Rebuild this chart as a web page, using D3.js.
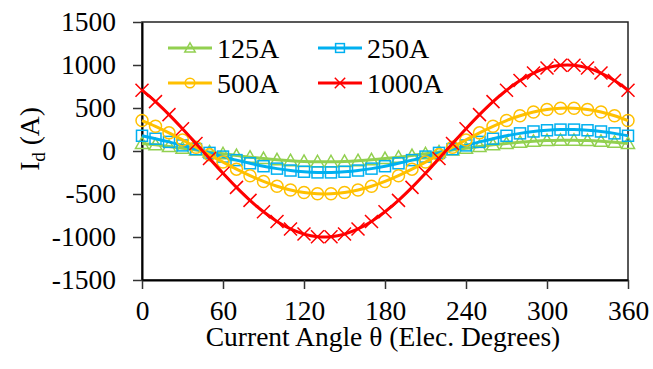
<!DOCTYPE html>
<html>
<head>
<meta charset="utf-8">
<script src="https://cdn.jsdelivr.net/npm/d3@7"></script>
<style>
  body { margin: 0; background: #fff; }
  svg text { font-family: "Liberation Serif", "Times New Roman", serif; fill: #000; }
</style>
</head>
<body>
<div id="chart"></div>
<script>
// Current angle (elec. degrees), one point every 10 degrees
var angles = [0, 10, 20, 30, 40, 50, 60, 70, 80, 90, 100, 110, 120, 130, 140, 150, 160, 170, 180,
              190, 200, 210, 220, 230, 240, 250, 260, 270, 280, 290, 300, 310, 320, 330, 340, 350, 360];

// Id (A)
var id125 = [88, 72, 53, 32, 11, -11, -32, -53, -72, -88, -102, -113, -121, -125, -125, -121, -113, -102, -88,
             -72, -53, -32, -11, 11, 32, 53, 72, 88, 102, 113, 121, 125, 125, 121, 113, 102, 88];
var id250 = [177, 143, 106, 65, 22, -22, -65, -106, -143, -177, -205, -227, -241, -249, -249, -241, -227, -205, -177,
             -143, -106, -65, -22, 22, 65, 106, 143, 177, 205, 227, 241, 249, 249, 241, 227, 205, 177];
var id500 = [354, 287, 211, 129, 44, -44, -129, -211, -287, -354, -410, -453, -483, -498, -498, -483, -453, -410, -354,
             -287, -211, -129, -44, 44, 129, 211, 287, 354, 410, 453, 483, 498, 498, 483, 453, 410, 354];
var id1000 = [707, 574, 423, 259, 87, -87, -259, -423, -574, -707, -819, -906, -966, -996, -996, -966, -906, -819, -707,
              -574, -423, -259, -87, 87, 259, 423, 574, 707, 819, 906, 966, 996, 996, 966, 906, 819, 707];

var seriesNames = ["125A", "250A", "500A", "1000A"];
var xTicks = [0, 60, 120, 180, 240, 300, 360];
var yTicks = [-1500, -1000, -500, 0, 500, 1000, 1500];

var W = 653, H = 369;
var plotL = 142, plotR = 628, plotT = 22, plotB = 280;
var serif = '"Liberation Serif", "Times New Roman", serif';

var series = [
  {name: seriesNames[0], values: id125, color: "#92D050", marker: "triangle"},
  {name: seriesNames[1], values: id250, color: "#00B0F0", marker: "square"},
  {name: seriesNames[2], values: id500, color: "#FFC000", marker: "circle"},
  {name: seriesNames[3], values: id1000, color: "#FF0000", marker: "cross"}
];

var svg = d3.select("#chart").append("svg")
    .attr("width", W)
    .attr("height", H);

var x = d3.scaleLinear().domain([0, 360]).range([plotL, plotR]);
var y = d3.scaleLinear().domain([-1500, 1500]).range([plotB, plotT]);

// plot frame
svg.append("rect")
  .attr("x", plotL).attr("y", plotT)
  .attr("width", plotR - plotL).attr("height", plotB - plotT)
  .attr("fill", "none").attr("stroke", "#222").attr("stroke-width", 1.5);

// plain hyphen for negatives, as in the original
var plain = function(d) { return String(d); };

// axes
var xAxis = svg.append("g")
  .attr("transform", "translate(0," + plotB + ")")
  .call(d3.axisBottom(x).tickValues(xTicks).tickFormat(plain)
    .tickSize(9).tickPadding(11).tickSizeOuter(0));
var yAxis = svg.append("g")
  .attr("transform", "translate(" + plotL + ",0)")
  .call(d3.axisLeft(y).tickValues(yTicks).tickFormat(plain)
    .tickSize(9).tickPadding(17).tickSizeOuter(0));

[xAxis, yAxis].forEach(function(a) {
  a.attr("font-family", serif).attr("font-size", 27.5);
  a.select(".domain").attr("stroke", "#000").attr("stroke-width", 2);
  a.selectAll(".tick line").attr("stroke", "#333").attr("stroke-width", 1.5);
  a.selectAll(".tick text").attr("fill", "#000");
});

// axis titles
svg.append("text")
  .attr("x", (plotL + plotR) / 2 - 2)
  .attr("y", 346)
  .attr("text-anchor", "middle")
  .style("font-size", "27.5px")
  .text("Current Angle \u03b8 (Elec. Degrees)");

var yl = svg.append("text")
  .attr("transform", "translate(39," + 139 + ") rotate(-90)")
  .attr("text-anchor", "middle")
  .style("font-size", "27.5px");
yl.append("tspan").text("I");
yl.append("tspan").attr("dy", 6).style("font-size", "19px").text("d");
yl.append("tspan").attr("dy", -6).text(" (A)");

// hollow markers, the line shows through them
function drawMarker(g, type, color, k) {
  if (type === "triangle") {
    g.append("path").attr("d", "M0," + (-6.5 * k) + "L" + (6.5 * k) + "," + (5 * k) + "L" + (-6.5 * k) + "," + (5 * k) + "Z")
      .attr("fill", "none").attr("stroke", color).attr("stroke-width", 1.5);
  } else if (type === "square") {
    g.append("rect").attr("x", -5.5 * k).attr("y", -5.5 * k).attr("width", 11 * k).attr("height", 11 * k)
      .attr("fill", "none").attr("stroke", color).attr("stroke-width", 1.5);
  } else if (type === "circle") {
    g.append("circle").attr("r", 6 * k)
      .attr("fill", "none").attr("stroke", color).attr("stroke-width", 1.5);
  } else {
    var c = 6.5 * k;
    g.append("path").attr("d", "M" + (-c) + "," + (-c) + "L" + c + "," + c + "M" + (-c) + "," + c + "L" + c + "," + (-c))
      .attr("fill", "none").attr("stroke", color).attr("stroke-width", 1.5);
  }
}

var line = d3.line()
  .x(function(d) { return x(d[0]); })
  .y(function(d) { return y(d[1]); })
  .curve(d3.curveCatmullRom);

series.forEach(function(s) {
  var pts = angles.map(function(a, i) { return [a, s.values[i]]; });
  svg.append("path")
    .datum(pts)
    .attr("d", line)
    .attr("fill", "none")
    .attr("stroke", s.color)
    .attr("stroke-width", 3);
  pts.forEach(function(p) {
    var g = svg.append("g").attr("transform", "translate(" + x(p[0]) + "," + y(p[1]) + ")");
    drawMarker(g, s.marker, s.color, 1);
  });
});

// legend
var legendPos = [[168, 48], [318, 48], [168, 83], [318, 83]];
series.forEach(function(s, i) {
  var lx = legendPos[i][0], ly = legendPos[i][1];
  var g = svg.append("g").attr("transform", "translate(" + lx + "," + ly + ")");
  g.append("line").attr("x1", 0).attr("x2", 44).attr("y1", 0).attr("y2", 0)
    .attr("stroke", s.color).attr("stroke-width", 3);
  var m = g.append("g").attr("transform", "translate(22,0)");
  drawMarker(m, s.marker, s.color, 0.8);
  g.append("text").attr("x", 49).attr("y", 9.5)
    .style("font-size", "28px")
    .text(s.name);
});
</script>
</body>
</html>
